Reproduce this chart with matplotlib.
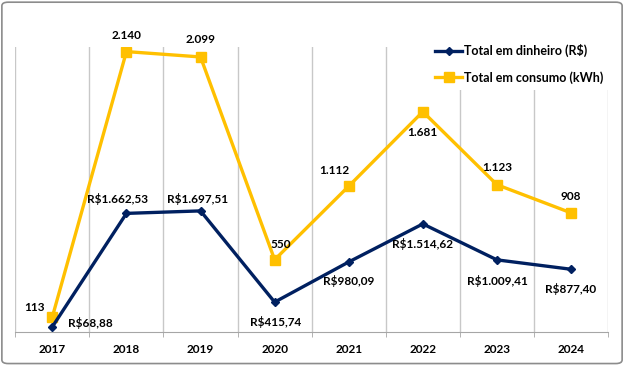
import matplotlib.pyplot as plt
from matplotlib.patches import FancyBboxPatch
from matplotlib.lines import Line2D

plt.rcParams['font.family'] = ['Lato', 'DejaVu Sans']

anos = ['2017', '2018', '2019', '2020', '2021', '2022', '2023', '2024']
dinheiro = [68.88, 1662.53, 1697.51, 415.74, 980.09, 1514.62, 1009.41, 877.40]
consumo = [113, 2140, 2099, 550, 1112, 1681, 1123, 908]
rotulos_dinheiro = ['R$68,88', 'R$1.662,53', 'R$1.697,51', 'R$415,74',
                    'R$980,09', 'R$1.514,62', 'R$1.009,41', 'R$877,40']
rotulos_consumo = ['113', '2.140', '2.099', '550', '1.112', '1.681', '1.123', '908']

azul = '#002060'
ouro = '#FFC000'

fig = plt.figure(figsize=(6.24, 3.65), dpi=100)
fig.patches.append(FancyBboxPatch((0.003, 0.004), 0.994, 0.99, boxstyle='round,pad=0,rounding_size=0.01',
                                  transform=fig.transFigure, fc='none', ec='#8c8c8c', lw=1.2, zorder=-1))
ax = fig.add_axes([0.0245, 0.0912, 0.95, 0.78])
ax.patch.set_alpha(0)
ax2 = ax.twinx()

x = list(range(len(anos)))

# linha do consumo (eixo de baixo) e do dinheiro por cima
ax.plot(x, consumo, color=ouro, lw=2.4, marker='s', ms=7, zorder=3)
ax.set_ylim(0, 2175)
ax2.plot(x, dinheiro, color=azul, lw=2.4, marker='D', ms=4.5, zorder=4)
ax2.set_ylim(0, 4000)

for a in (ax, ax2):
    a.set_xlim(-0.5, 7.5)
    a.set_yticks([])
    for s in ['left', 'right', 'top']:
        a.spines[s].set_visible(False)
ax2.spines['bottom'].set_visible(False)
ax.spines['bottom'].set_color('#a6a6a6')

ax.set_xticks(x)
ax.set_xticklabels(anos, fontsize=8.5, fontweight='bold')
ax.tick_params(axis='x', which='major', length=0, pad=9)
ax.set_xticks([i - 0.5 for i in range(len(anos) + 1)], minor=True)
ax.tick_params(axis='x', which='minor', length=3.5, color='#a6a6a6', direction='out')
ax.grid(axis='x', which='minor', color='#c8c8c8', lw=1)
ax.grid(axis='x', which='major', visible=False)

# deslocamentos dos rótulos em pontos
off_c = [(-13, 6.5), (0, 11.7), (0, 12.5), (4.5, 11.2), (-10.5, 11), (0, -15), (0, 12.7), (0, 12)]
off_d = [(27.6, 2.7), (-6.5, 10), (-2, 8.9), (0.7, -14), (0, -14), (0, -14.4), (0, -14.9), (0, -14.2)]
for i in x:
    ax.annotate(rotulos_consumo[i], (x[i], consumo[i]), xytext=off_c[i], textcoords='offset points',
                ha='center', va='center', fontsize=8.5, fontweight='bold', color='black', zorder=6)
    ax2.annotate(rotulos_dinheiro[i], (x[i], dinheiro[i]), xytext=off_d[i], textcoords='offset points',
                 ha='center', va='center', fontsize=8.5, fontweight='bold', color='black', zorder=6)

handles = [Line2D([], [], color=azul, lw=2.4, marker='D', ms=4.5),
           Line2D([], [], color=ouro, lw=2.4, marker='s', ms=7)]
leg = ax2.legend(handles, ['Total em dinheiro (R$)', 'Total em consumo (kWh)'],
                 loc='upper left', bbox_to_anchor=(0.6875, 0.896), bbox_transform=fig.transFigure,
                 frameon=True, fancybox=False, edgecolor='none', facecolor='white', framealpha=1,
                 prop={'weight': 'bold', 'size': 9}, handlelength=2.15, handletextpad=0.15,
                 labelspacing=1.1, borderpad=0.5, borderaxespad=0)
leg.set_zorder(10)

fig.savefig('out.png', dpi=100)
